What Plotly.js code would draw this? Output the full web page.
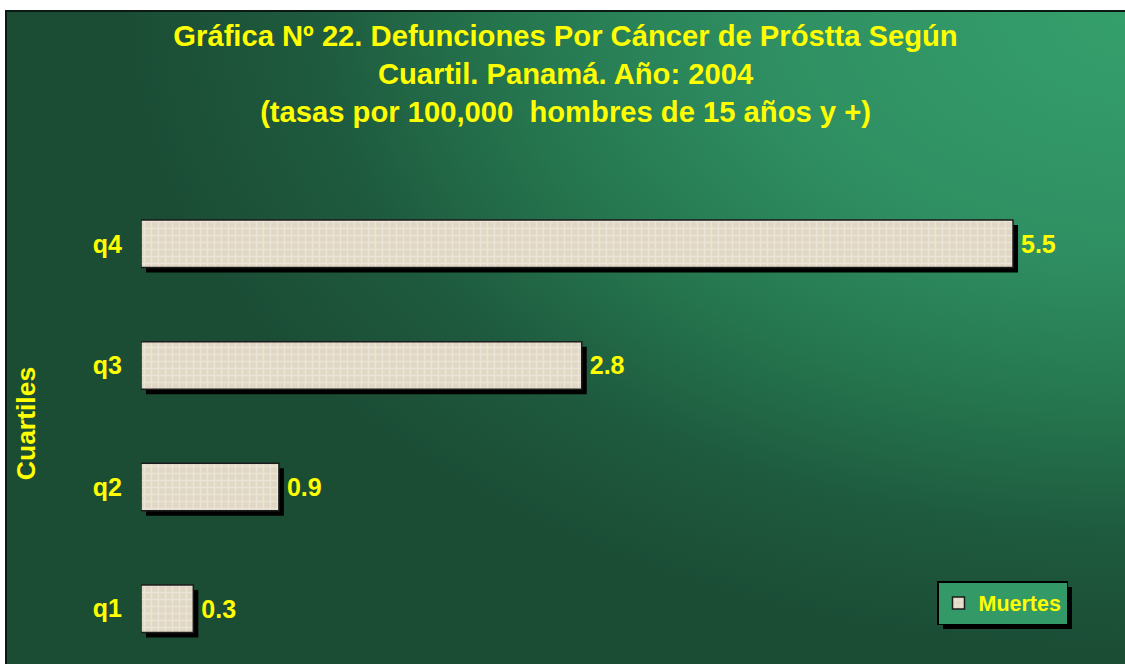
<!DOCTYPE html>
<html>
<head>
<meta charset="utf-8">
<script src="https://cdn.plot.ly/plotly-3.0.1.min.js"></script>
<style>
  html, body { margin: 0; padding: 0; background: #ffffff; overflow: hidden; width: 1125px; height: 664px; }
  #bg {
    position: absolute; left: 5px; top: 10px; width: 1140px; height: 680px;
    border-left: 2px solid #0b1a12; border-top: 2px solid #0b1a12;
    background: radial-gradient(ellipse 1020px 640px at 100% 0%, #35a06c 0%, #2f8f62 38%, #25764f 62%, #1e5a3e 82%, #1b4d35 100%);
  }
  #chart { position: absolute; left: 0; top: 0; width: 1125px; height: 664px; }
</style>
</head>
<body>
<div id="bg"></div>
<div id="chart"></div>
<script>
// ---- data ----
const categories = ['q1', 'q2', 'q3', 'q4'];
const tasas = [0.33, 0.87, 2.78, 5.5];
const valueLabels = ['0.3', '0.9', '2.8', '5.5'];
const seriesName = 'Muertes';
const titleLines = [
  'Gráfica Nº 22. Defunciones Por Cáncer de Próstta Según',
  'Cuartil. Panamá. Año: 2004',
  '(tasas por 100,000  hombres de 15 años y +)'
];
const yTitle = 'Cuartiles';

// ---- style ----
const FONT = '"Liberation Sans", Arial, Helvetica, sans-serif';
const YEL = '#ffff00';
const BAR_W = 0.39;
const SHIFT_X = 0.0315;   // shadow shift in value units (~5px)
const SHIFT_Y = 0.041;    // shadow shift in category units (~5px)

const shadow = {
  type: 'bar', orientation: 'h', y: categories, x: tasas, base: SHIFT_X,
  width: BAR_W, offset: -BAR_W / 2 - SHIFT_Y,
  marker: { color: '#000000', line: { width: 0 } },
  showlegend: false, hoverinfo: 'skip'
};
const main = {
  type: 'bar', orientation: 'h', y: categories, x: tasas, name: seriesName,
  width: BAR_W,
  marker: {
    color: '#e0d7c4',
    line: { color: '#1c1c1c', width: 1.5 },
    pattern: { shape: '+', fgcolor: '#f5f1e9', size: 7, solidity: 0.35, fillmode: 'overlay' }
  },
  hoverinfo: 'skip'
};
const labels = {
  type: 'bar', orientation: 'h', y: categories, x: tasas, base: SHIFT_X,
  width: BAR_W, text: valueLabels, textposition: 'outside', cliponaxis: false,
  textfont: { family: FONT, size: 25, color: YEL, weight: 'bold' },
  marker: { color: 'rgba(0,0,0,0)', line: { width: 0 } },
  showlegend: false, hoverinfo: 'skip'
};

const layout = {
  width: 1125, height: 664,
  paper_bgcolor: 'rgba(0,0,0,0)', plot_bgcolor: 'rgba(0,0,0,0)',
  margin: { l: 141, r: 1, t: 183, b: 0 },
  barmode: 'overlay',
  showlegend: true,
  font: { family: FONT, color: YEL, weight: 'bold' },
  title: {
    text: titleLines.join('<br>'),
    font: { family: FONT, size: 29.2, color: YEL, weight: 'bold' },
    xref: 'container', x: 0.5027, xanchor: 'center',
    yref: 'container', y: 0.931, yanchor: 'top'
  },
  xaxis: {
    range: [0, 6.2], autorange: false, visible: false, fixedrange: true
  },
  yaxis: {
    type: 'category', categoryorder: 'array', categoryarray: categories,
    range: [-0.4545, 3.5], autorange: false,
    showline: false, showgrid: false, zeroline: false,
    ticks: 'outside', ticklen: 13, tickcolor: 'rgba(0,0,0,0)',
    tickfont: { family: FONT, size: 25, color: YEL, weight: 'bold' },
    title: { text: yTitle, font: { family: FONT, size: 26.5, color: YEL, weight: 'bold' }, standoff: 49 },
    automargin: false, fixedrange: true
  },
  legend: {
    xref: 'paper', yref: 'paper',
    x: (937 - 141) / 983, xanchor: 'left', y: (664 - 581) / 481, yanchor: 'top',
    bgcolor: '#339966', bordercolor: '#000000', borderwidth: 1.5,
    font: { family: FONT, size: 21.5, color: YEL, weight: 'bold' }
  }
};

Plotly.newPlot('chart', [shadow, main, labels], layout, { staticPlot: true, displayModeBar: false }).then(function (gd) {
  // drop shadow behind the legend box
  const lg = gd.querySelector('g.legend');
  if (lg) {
    const bg = lg.querySelector('rect.bg');
    if (bg) {
      const sh = bg.cloneNode(false);
      sh.setAttribute('class', 'legend-shadow');
      const x = parseFloat(bg.getAttribute('x') || 0), y = parseFloat(bg.getAttribute('y') || 0);
      sh.setAttribute('x', x + 5); sh.setAttribute('y', y + 5);
      sh.style.fill = '#000000'; sh.style.stroke = 'none';
      bg.parentNode.insertBefore(sh, bg);
    }
  }
});
</script>
</body>
</html>
